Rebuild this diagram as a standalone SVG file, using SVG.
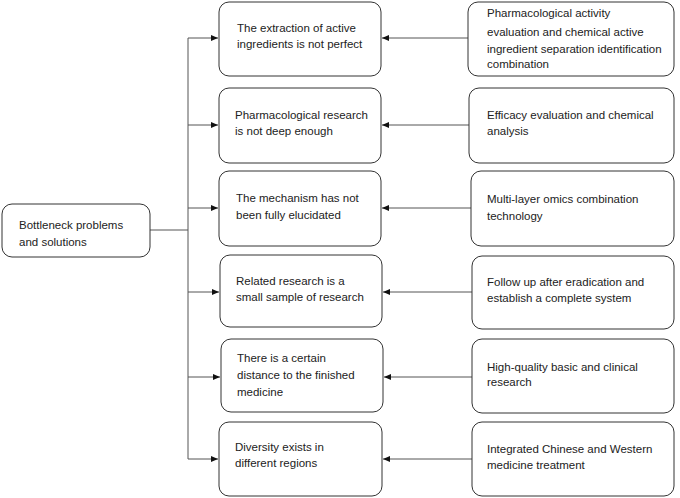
<svg xmlns="http://www.w3.org/2000/svg" width="680" height="498" viewBox="0 0 680 498">
<style>
.box{fill:#fff;stroke:#333;stroke-width:1}
.t{font-family:"Liberation Sans",Arial,sans-serif;font-size:11.5px;fill:#222}
.c{fill:none;stroke:#555;stroke-width:1}
</style>
<defs>
<marker id="ah" markerWidth="7" markerHeight="6" refX="7" refY="3" orient="auto" markerUnits="userSpaceOnUse">
<path d="M0,0 L7,3 L0,6 Z" fill="#111"/>
</marker>
</defs>
<rect width="680" height="498" fill="#fff"/>
<g id="connectors">
<path class="c" d="M150,230 H188"/>
<path class="c" d="M188,38 V459"/>
<path class="c" d="M188,38 H218" marker-end="url(#ah)"/>
<path class="c" d="M188,125 H218" marker-end="url(#ah)"/>
<path class="c" d="M188,208 H218" marker-end="url(#ah)"/>
<path class="c" d="M188,292 H219" marker-end="url(#ah)"/>
<path class="c" d="M188,377 H220" marker-end="url(#ah)"/>
<path class="c" d="M188,459 H218" marker-end="url(#ah)"/>
<path class="c" d="M468,38 H382" marker-end="url(#ah)"/>
<path class="c" d="M469,125 H382" marker-end="url(#ah)"/>
<path class="c" d="M471,208 H382" marker-end="url(#ah)"/>
<path class="c" d="M472,292 H383" marker-end="url(#ah)"/>
<path class="c" d="M472,377 H384" marker-end="url(#ah)"/>
<path class="c" d="M472,459 H383" marker-end="url(#ah)"/>
</g>
<g id="root">
<rect class="box" x="2" y="204" width="148" height="53" rx="10"/>
<text class="t" x="19" y="229">Bottleneck problems</text>
<text class="t" x="19" y="246">and solutions</text>
</g>
<g id="p1">
<rect class="box" x="219" y="2" width="162" height="74" rx="10"/>
<text class="t" x="237" y="32">The extraction of active</text>
<text class="t" x="237" y="48">ingredients is not perfect</text>
</g>
<g id="p2">
<rect class="box" x="219" y="88" width="162" height="75" rx="10"/>
<text class="t" x="235" y="119">Pharmacological research</text>
<text class="t" x="235" y="135">is not deep enough</text>
</g>
<g id="p3">
<rect class="box" x="219" y="171" width="162" height="75" rx="10"/>
<text class="t" x="236" y="202">The mechanism has not</text>
<text class="t" x="236" y="219">been fully elucidated</text>
</g>
<g id="p4">
<rect class="box" x="220" y="255" width="162" height="72" rx="10"/>
<text class="t" x="236" y="285">Related research is a</text>
<text class="t" x="236" y="301">small sample of research</text>
</g>
<g id="p5">
<rect class="box" x="221" y="339" width="162" height="73" rx="10"/>
<text class="t" x="237" y="362">There is a certain</text>
<text class="t" x="237" y="379">distance to the finished</text>
<text class="t" x="237" y="396">medicine</text>
</g>
<g id="p6">
<rect class="box" x="219" y="422" width="163" height="74" rx="10"/>
<text class="t" x="235" y="451">Diversity exists in</text>
<text class="t" x="235" y="467">different regions</text>
</g>
<g id="s1">
<rect class="box" x="468" y="2" width="206" height="74" rx="10"/>
<text class="t" x="487" y="17">Pharmacological activity</text>
<text class="t" x="487" y="36">evaluation and chemical active</text>
<text class="t" x="487" y="53">ingredient separation identification</text>
<text class="t" x="487" y="68">combination</text>
</g>
<g id="s2">
<rect class="box" x="469" y="88" width="205" height="75" rx="10"/>
<text class="t" x="487" y="119">Efficacy evaluation and chemical</text>
<text class="t" x="487" y="135">analysis</text>
</g>
<g id="s3">
<rect class="box" x="471" y="171" width="203" height="75" rx="10"/>
<text class="t" x="487" y="203">Multi-layer omics combination</text>
<text class="t" x="487" y="220">technology</text>
</g>
<g id="s4">
<rect class="box" x="472" y="256" width="202" height="73" rx="10"/>
<text class="t" x="487" y="286">Follow up after eradication and</text>
<text class="t" x="487" y="302">establish a complete system</text>
</g>
<g id="s5">
<rect class="box" x="472" y="339" width="202" height="74" rx="10"/>
<text class="t" x="487" y="371">High-quality basic and clinical</text>
<text class="t" x="487" y="386">research</text>
</g>
<g id="s6">
<rect class="box" x="472" y="422" width="202" height="74" rx="10"/>
<text class="t" x="487" y="453">Integrated Chinese and Western</text>
<text class="t" x="487" y="469">medicine treatment</text>
</g>
</svg>
